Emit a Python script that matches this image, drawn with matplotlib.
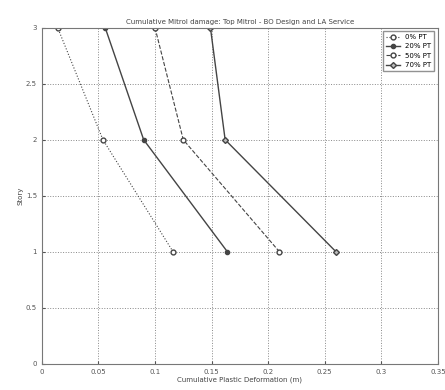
import numpy as np
import matplotlib.pyplot as plt

# storey levels and cumulative plastic deformation per case
story = [1, 2, 3]
pt0 = [0.116, 0.054, 0.014]
pt20 = [0.164, 0.090, 0.056]
pt50 = [0.210, 0.125, 0.100]
pt70 = [0.260, 0.162, 0.149]
labels = ["0% PT", "20% PT", "50% PT", "70% PT"]

fig = plt.figure(figsize=(4.45, 3.9), dpi=100)
ax = fig.add_axes([0.094, 0.067, 0.89, 0.862])

c = "#444444"
ax.plot(pt0, story, ':', color=c, lw=0.8, marker='o', ms=3.5, mfc='white', mec=c, label=labels[0])
ax.plot(pt20, story, '-', color=c, lw=1.0, marker='o', ms=3, mfc=c, mec=c, label=labels[1])
ax.plot(pt50, story, '--', color=c, lw=0.8, marker='o', ms=3.5, mfc='white', mec=c, label=labels[2])
ax.plot(pt70, story, '-', color=c, lw=1.0, marker='D', ms=3, mfc='#bbbbbb', mec=c, label=labels[3])

ax.set_xlim(0, 0.35)
ax.set_ylim(0, 3)
ax.set_xticks(np.arange(0, 0.351, 0.05))
ax.set_xticklabels(["0", "0.05", "0.1", "0.15", "0.2", "0.25", "0.3", "0.35"])
ax.set_yticks(np.arange(0, 3.01, 0.5))
ax.set_yticklabels(["0", "0.5", "1", "1.5", "2", "2.5", "3"])
ax.tick_params(labelsize=5, length=2, direction='in', colors='#555555')
ax.grid(True, linestyle=':', color='#888888', lw=0.7)
for s in ax.spines.values():
    s.set_color('#777777')
ax.set_title("Cumulative Mitrol damage: Top Mitrol - BO Design and LA Service", fontsize=5, color='#444444', pad=3)
ax.set_xlabel("Cumulative Plastic Deformation (m)", fontsize=5, color='#444444', labelpad=1)
ax.set_ylabel("Story", fontsize=5, color='#444444', labelpad=2)
ax.legend(loc='upper right', fontsize=5, frameon=True, fancybox=False, edgecolor='#777777',
          handlelength=2.0, borderpad=0.4, labelspacing=0.5)

fig.savefig("out.png", dpi=100)
